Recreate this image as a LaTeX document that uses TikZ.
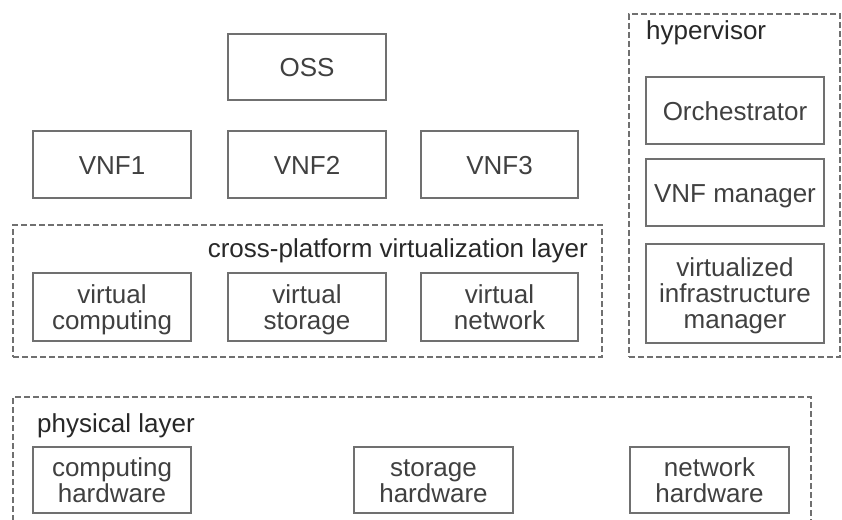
\documentclass[tikz,border=0pt]{standalone}
\usepackage{fontspec}
\setmainfont{Liberation Sans}
\definecolor{linegray}{RGB}{112,112,112}
\definecolor{textgray}{RGB}{64,64,64}
\definecolor{labelgray}{RGB}{40,40,40}
\begin{document}
\begin{tikzpicture}[x=1pt,y=-1pt,
  box/.style={draw=linegray,line width=2pt,inner sep=0pt,align=center,text=textgray,
    font=\fontsize{26}{26}\selectfont,minimum height=67pt,text height=19pt,text depth=0pt},
  twoline/.style={text height=51pt,text depth=7pt},
  threeline/.style={text height=76pt,text depth=7pt},
  wbox/.style={box,minimum width=158pt},
  hbox/.style={box,minimum width=178pt},
  group/.style={draw=linegray,line width=2pt,dash pattern=on 6pt off 3pt,inner sep=0pt},
  grouplabel/.style={text=labelgray,inner sep=0pt,font=\fontsize{26}{26}\selectfont}]
\useasboundingbox (0,0) rectangle (842,519);
% groups
\node[group,minimum width=589pt,minimum height=132pt] (cross) at (307.5,291) {};
\node[group,minimum width=211pt,minimum height=343pt] (hyp) at (734.5,185.5) {};
\draw[group] (13,530) coordinate (pbl) -- (13,397) -- (811,397) -- (811,530) coordinate (pbr);
\node[grouplabel,anchor=base east] (crosslbl) at (588,257) {cross-platform virtualization layer};
\node[grouplabel,anchor=base west] (hyplbl) at (646,40) {hypervisor};
\node[grouplabel,anchor=base west] (physlbl) at (37,432) {physical layer};
% top
\node[wbox,minimum height=66pt] (oss) at (307,67) {OSS};
\node[wbox] (vnf1) at (112,164.5) {VNF1};
\node[wbox] (vnf2) at (307,164.5) {VNF2};
\node[wbox,minimum width=157pt] (vnf3) at (499.5,164.5) {VNF3};
% virtual
\node[wbox,twoline,minimum height=68pt] (vc) at (112,307) {virtual\\computing};
\node[wbox,twoline,minimum height=68pt] (vs) at (307,307) {virtual\\storage};
\node[wbox,twoline,minimum width=157pt,minimum height=68pt] (vn) at (499.5,307) {virtual\\network};
% hypervisor
\node[hbox] (orch) at (735,110.5) {Orchestrator};
\node[hbox] (vnfm) at (735,192.5) {VNF manager};
\node[hbox,threeline,minimum height=99pt] (vim) at (735,293.5) {virtualized\\infrastructure\\manager};
% physical
\node[wbox,twoline,minimum height=66pt] (ch) at (112,480) {computing\\hardware};
\node[wbox,twoline,minimum width=159pt,minimum height=66pt] (sh) at (433.5,480) {storage\\hardware};
\node[wbox,twoline,minimum width=159pt,minimum height=66pt] (nh) at (709.5,480) {network\\hardware};
\end{tikzpicture}
\end{document}
